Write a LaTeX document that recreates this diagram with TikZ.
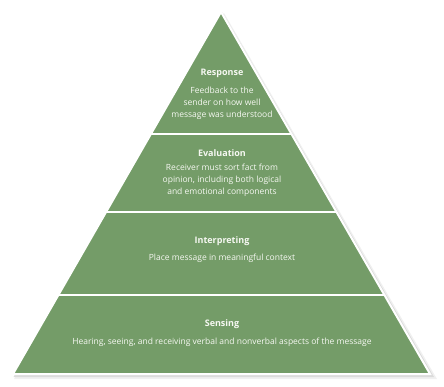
\documentclass[tikz,border=0pt]{standalone}
\usepackage{fontspec}
\setmainfont{Open Sans}
\usetikzlibrary{calc, positioning}

\definecolor{pyrgreen}{RGB}{116,156,104}
\definecolor{pyrtext}{RGB}{246,248,242}

\tikzset{
  title/.style={text=pyrtext, font=\fontsize{9}{11}\selectfont\bfseries},
  body/.style={text=pyrtext, align=center, font=\fontsize{8.5}{12.2}\selectfont}
}

\begin{document}
\begin{tikzpicture}[x=1pt, y=-1pt]
  \useasboundingbox (0,0) rectangle (444,387);
  % shadow
  \fill[black!6] (224,13) -- (437,379) -- (14,379) -- cycle;
  \fill[black!14] (222.5,12.5) -- (434,377) -- (13.5,377) -- cycle;
  % pyramid
  \fill[pyrgreen, draw=white, line width=2] (221,12) -- (430,374) -- (13,374) -- cycle;
  \begin{scope}
    \clip (221,12) -- (430,374) -- (13,374) -- cycle;
    \draw[white, line width=2] (0,134) -- (444,134);
    \draw[white, line width=2] (0,212) -- (444,212);
    \draw[white, line width=2] (0,295) -- (444,295);
  \end{scope}
  % labels
  \node[title] (resp) at (222,73) {Response};
  \node[body] (resptxt) at (222,103) {Feedback to the\\sender on how well\\message was understood};
  \node[title] (eval) at (222,153) {Evaluation};
  \node[body] (evaltxt) at (222,180) {Receiver must sort fact from\\opinion, including both logical\\and emotional components};
  \node[title] (interp) at (222,241) {Interpreting};
  \node[body] (interptxt) at (222,258) {Place message in meaningful context};
  \node[title] (sens) at (222,324) {Sensing};
  \node[body] (senstxt) at (222,342) {Hearing, seeing, and receiving verbal and nonverbal aspects of the message};
\end{tikzpicture}
\end{document}
